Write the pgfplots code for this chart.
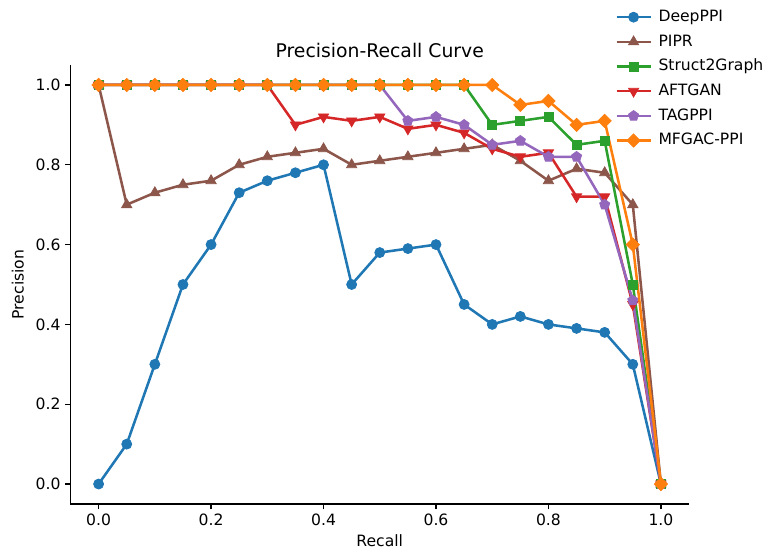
\documentclass[border=0pt]{standalone}
\usepackage{fontspec}
\setmainfont{DejaVu Sans}
\usepackage{pgfplots}
\usepackage{pgfplotstable}
\pgfplotsset{compat=1.18}
\usetikzlibrary{plotmarks}

\definecolor{cblue}{HTML}{1F77B4}
\definecolor{corange}{HTML}{FF7F0E}
\definecolor{cgreen}{HTML}{2CA02C}
\definecolor{cred}{HTML}{D62728}
\definecolor{cpurple}{HTML}{9467BD}
\definecolor{cbrown}{HTML}{8C564B}

\pgfplotstableread{
r    deep pipr s2g  aft  tag  mfg
0.00 0.00 1.00 1.00 1.00 1.00 1.00
0.05 0.10 0.70 1.00 1.00 1.00 1.00
0.10 0.30 0.73 1.00 1.00 1.00 1.00
0.15 0.50 0.75 1.00 1.00 1.00 1.00
0.20 0.60 0.76 1.00 1.00 1.00 1.00
0.25 0.73 0.80 1.00 1.00 1.00 1.00
0.30 0.76 0.82 1.00 1.00 1.00 1.00
0.35 0.78 0.83 1.00 0.90 1.00 1.00
0.40 0.80 0.84 1.00 0.92 1.00 1.00
0.45 0.50 0.80 1.00 0.91 1.00 1.00
0.50 0.58 0.81 1.00 0.92 1.00 1.00
0.55 0.59 0.82 1.00 0.89 0.91 1.00
0.60 0.60 0.83 1.00 0.90 0.92 1.00
0.65 0.45 0.84 1.00 0.88 0.90 1.00
0.70 0.40 0.85 0.90 0.84 0.85 1.00
0.75 0.42 0.81 0.91 0.82 0.86 0.95
0.80 0.40 0.76 0.92 0.83 0.82 0.96
0.85 0.39 0.79 0.85 0.72 0.82 0.90
0.90 0.38 0.78 0.86 0.72 0.70 0.91
0.95 0.30 0.70 0.50 0.45 0.46 0.60
1.00 0.00 0.00 0.00 0.00 0.00 0.00
}\prdata

\begin{document}
\begin{tikzpicture}
\begin{axis}[name=ax, scale only axis, width=463.9pt, height=329.25pt,
  xmin=-0.05, xmax=1.05, ymin=-0.05, ymax=1.05,
  axis x line*=bottom, axis y line*=left,
  axis line style={line width=1pt, -},
  xtick={0,0.2,0.4,0.6,0.8,1.0}, ytick={0,0.2,0.4,0.6,0.8,1.0},
  tick style={line width=1pt, black}, major tick length=4pt, tick align=outside,
  /pgf/number format/.cd, fixed, fixed zerofill, precision=1, assume math mode=true, /pgfplots/.cd,
  ticklabel style={font=\fontsize{11.7}{13}\selectfont},
  label style={font=\fontsize{11.7}{13}\selectfont},
  xlabel={Recall}, ylabel={Precision},
  ylabel style={yshift=2pt},
  title={Precision-Recall Curve},
  title style={font=\fontsize{14.1}{16}\selectfont, yshift=-4pt},
  legend style={at={(0.8804,1.13)}, anchor=north west, draw=none, fill=none,
    inner sep=0pt, font=\fontsize{11.7}{13}\selectfont, row sep=5pt, column sep=4pt,
    nodes={inner sep=1pt, text height=9pt, text depth=2.5pt}},
  legend cell align=left,
  legend image code/.code={\draw[mark repeat=2, mark phase=2, #1]
    plot coordinates {(0pt,0pt) (12.75pt,0pt) (25.5pt,0pt)};},
  every axis plot/.append style={line width=1.9pt},
]
\addplot[cblue, mark=*, mark size=3.75pt, mark options={solid, line width=0.6pt}] table[x=r, y=deep] {\prdata};
\addlegendentry{DeepPPI}
\addplot[cbrown, mark=triangle*, mark size=4.4pt, mark options={solid, line width=0.6pt}] table[x=r, y=pipr] {\prdata};
\addlegendentry{PIPR}
\addplot[cgreen, mark=square*, mark size=3.4pt, mark options={solid, line width=0.6pt}] table[x=r, y=s2g] {\prdata};
\addlegendentry{Struct2Graph}
\addplot[cred, mark=triangle*, mark size=4.4pt, mark options={solid, line width=0.6pt, rotate=180}] table[x=r, y=aft] {\prdata};
\addlegendentry{AFTGAN}
\addplot[cpurple, mark=pentagon*, mark size=4pt, mark options={solid, line width=0.6pt}] table[x=r, y=tag] {\prdata};
\addlegendentry{TAGPPI}
\addplot[corange, mark=square*, mark size=3.5pt, mark options={solid, line width=0.6pt, rotate=45}] table[x=r, y=mfg] {\prdata};
\addlegendentry{MFGAC-PPI}
\end{axis}
\pgfresetboundingbox
\path[use as bounding box] ([shift={(-52.875pt,-34.5pt)}]ax.south west) rectangle ([shift={(523.875pt,378pt)}]ax.south west);
\end{tikzpicture}
\end{document}
